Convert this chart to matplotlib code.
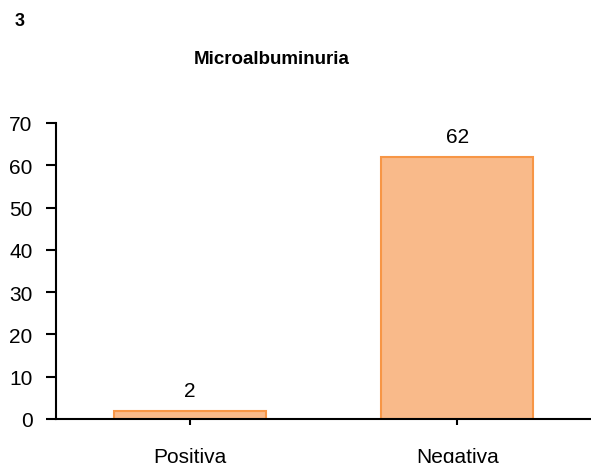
import matplotlib.pyplot as plt

plt.rcParams['font.family'] = ['Liberation Sans', 'DejaVu Sans']

categories = ['Positiva', 'Negativa']
values = [2, 62]
y_ticks = [0, 10, 20, 30, 40, 50, 60, 70]

fig = plt.figure(figsize=(5.91, 4.64), dpi=100)
ax = fig.add_axes([56 / 591, 1 - 420 / 464, 1 - 56 / 591, (420 - 124) / 464])

x = range(len(categories))
bars = ax.bar(x, values, width=0.57, color='#F9BA8A', edgecolor='#F79646', linewidth=1.5)
for xi, v in zip(x, values):
    ax.text(xi, v + 2.5, str(v), ha='center', va='bottom', fontsize=15)

ax.set_xlim(-0.5, 1.5)
ax.set_ylim(0, 70)
ax.set_yticks(y_ticks)
ax.set_xticks(list(x))
ax.set_xticklabels(categories, fontsize=15)
ax.tick_params(axis='y', labelsize=15, length=7, width=1.5, direction='out', pad=10)
ax.tick_params(axis='x', length=4, width=1.5, direction='out', pad=16)
for s in ['top', 'right']:
    ax.spines[s].set_visible(False)
for s in ['left', 'bottom']:
    ax.spines[s].set_linewidth(1.5)

fig.text(272 / 591, 1 - 60 / 464, 'Microalbuminuria', ha='center', va='center', fontsize=13.5, fontweight='bold')
fig.text(15 / 591, 1 - 21 / 464, '3', ha='left', va='center', fontsize=13, fontweight='bold')

fig.savefig('out.png', dpi=100)
